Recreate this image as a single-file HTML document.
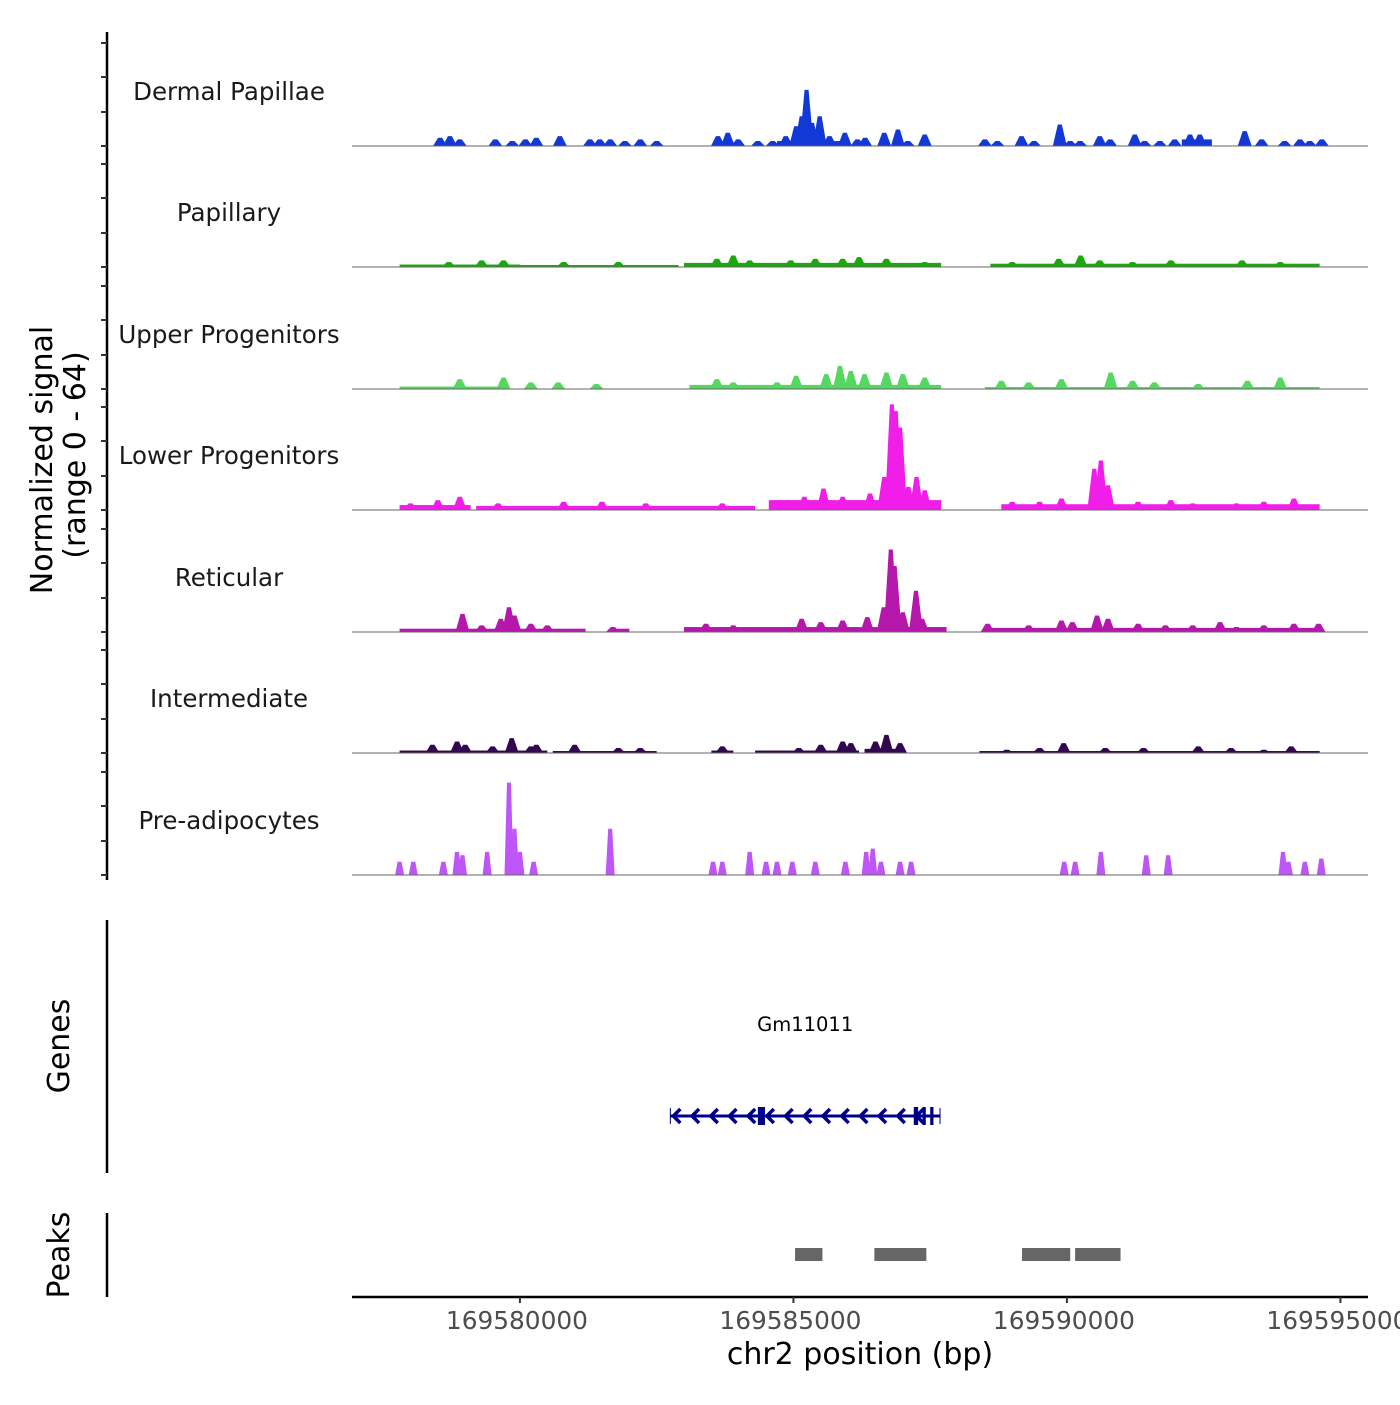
<!DOCTYPE html>
<html><head><meta charset="utf-8"><style>
body{margin:0;background:#fff}
svg{font-family:"DejaVu Sans","Liberation Sans",sans-serif}
</style></head><body>
<svg id="c" width="1400" height="1400" viewBox="0 0 1400 1400"></svg>
<script>
const trackNames=["Dermal Papillae","Papillary","Upper Progenitors","Lower Progenitors","Reticular","Intermediate","Pre-adipocytes"];
const trackColors=["#1238d6","#1aa80d","#55d760","#f01ee8","#b517aa","#33074f","#be55f7"];
const xTicks=[169580000,169585000,169590000,169595000];
const dpPeaks=[[169578540,5],[169578720,6],[169578900,4],[169579550,4],[169579860,3],[169580100,4],[169580300,5],[169580730,6],[169581280,4],[169581460,4],[169581650,4],[169581920,3],[169582200,4],[169582500,3],[169583620,6],[169583800,8],[169583990,4],[169584350,3],[169584620,3],[169584860,6],[169585050,12],[169585150,18],[169585240,34],[169585340,14],[169585480,18],[169585660,6],[169585940,8],[169586170,4],[169586310,5],[169586660,8],[169586910,10],[169587090,3],[169587400,7],[169588500,4],[169588730,3],[169589170,6],[169589400,3],[169589870,13],[169590060,3],[169590240,3],[169590600,6],[169590790,4],[169591240,7],[169591420,3],[169591700,3],[169591970,4],[169592250,7],[169592430,7],[169593250,9],[169593560,4],[169593980,3],[169594260,4],[169594440,3],[169594660,4]];
const dpRegions=[[169584700,169586000,3],[169592100,169592650,4]];
const papPeaks=[[169578700,3],[169579300,4],[169579700,4],[169580800,3],[169581800,3],[169583600,5],[169583900,7],[169584200,4],[169584950,4],[169585400,5],[169585900,5],[169586200,6],[169586700,5],[169587400,3],[169589000,3],[169589850,5],[169590250,7],[169590600,4],[169591200,3],[169591900,4],[169593200,4],[169593900,3]];
const papRegions=[[169577800,169580000,1.5],[169580000,169582900,1.2],[169583000,169587700,2.5],[169588600,169594620,2]];
const upPeaks=[[169578900,6],[169579700,7],[169580200,4],[169580700,4],[169581400,3],[169583600,6],[169583900,4],[169584700,4],[169585050,8],[169585600,9],[169585850,14],[169586050,11],[169586300,9],[169586700,10],[169587000,9],[169587400,7],[169588800,5],[169589300,4],[169589900,6],[169590800,10],[169591200,5],[169591600,4],[169592400,3],[169593300,5],[169593900,7]];
const upRegions=[[169577800,169579600,1.5],[169583100,169587700,2.5],[169588500,169594620,1.2]];
const lpPeaks=[[169578000,4],[169578500,6],[169578900,8],[169579600,4],[169580800,5],[169581500,5],[169582300,4],[169583700,4],[169584900,6],[169585200,8],[169585550,13],[169585900,8],[169586400,10],[169586660,20],[169586800,64],[169586870,60],[169586950,50],[169587100,14],[169587250,20],[169587400,12],[169589000,5],[169589500,5],[169589900,7],[169590500,25],[169590620,30],[169590750,15],[169591300,5],[169591900,6],[169592300,4],[169593100,4],[169593600,5],[169594150,7],[169594400,3]];
const lpRegions=[[169577800,169579100,3],[169579200,169584300,2.5],[169584550,169587700,6],[169588800,169594620,3.5]];
const retPeaks=[[169578950,11],[169579300,4],[169579650,8],[169579800,15],[169579900,10],[169580200,5],[169580500,4],[169581700,3],[169583400,5],[169583900,4],[169585150,8],[169585500,6],[169585900,7],[169586350,9],[169586650,15],[169586780,50],[169586850,40],[169587000,12],[169587240,25],[169587350,8],[169588550,5],[169589300,4],[169589900,7],[169590100,6],[169590550,10],[169590750,8],[169591300,5],[169591800,4],[169592300,4],[169592800,6],[169593100,3],[169593600,4],[169594150,5],[169594600,5]];
const retRegions=[[169577800,169581200,2],[169581700,169582000,2],[169583000,169587800,3],[169588500,169594620,2.5]];
const intPeaks=[[169578400,5],[169578850,7],[169579000,5],[169579500,4],[169579850,9],[169580200,4],[169580300,5],[169581000,5],[169581800,3],[169582200,3],[169583700,4],[169585100,3],[169585500,5],[169585900,7],[169586050,6],[169586500,7],[169586700,11],[169586950,6],[169588900,2],[169589500,3],[169589940,6],[169590700,3],[169591400,3],[169592400,4],[169593000,3],[169593600,2],[169594100,4]];
const intRegions=[[169577800,169580500,1.5],[169580600,169582500,1.2],[169583500,169583900,1.5],[169584300,169586200,1.5],[169586300,169587000,2.5],[169588400,169594620,1.2]];
const prePeaks=[[169577800,8],[169578050,8],[169578600,8],[169578850,14],[169578950,12],[169579400,14],[169579800,56],[169579900,28],[169580000,14],[169580250,8],[169581650,28],[169583530,8],[169583700,8],[169584200,14],[169584500,8],[169584700,8],[169584980,8],[169585400,8],[169585950,8],[169586330,14],[169586450,16],[169586600,8],[169586950,8],[169587150,8],[169589950,8],[169590150,8],[169590620,14],[169591450,12],[169591850,12],[169593950,14],[169594050,8],[169594350,8],[169594650,10]];
const preRegions=[];
const allPeaks=[dpPeaks,papPeaks,upPeaks,lpPeaks,retPeaks,intPeaks,prePeaks];
const allRegions=[dpRegions,papRegions,upRegions,lpRegions,retRegions,intRegions,preRegions];
const geneName="Gm11011";
const geneStart=169582750, geneEnd=169587680;
const geneExons=[[169584350,169584480],[169587200,169587280],[169587360,169587420],[169587500,169587560]];
const peakRanges=[[169585030,169585530],[169586480,169587430],[169589180,169590060],[169590150,169590980]];

const NS="http://www.w3.org/2000/svg";
const svg=document.getElementById('c');
function mk(tag,attrs,parent){const e=document.createElementNS(NS,tag);for(const k in attrs)e.setAttribute(k,attrs[k]);(parent||svg).appendChild(e);return e;}
const X0=352,X1=1368,BP0=169576930,PXBP=0.0547;
const xs=bp=>X0+(bp-BP0)*PXBP;
const baselines=[146,267,389,510,632,753,875];
const ys=(base,v)=>base-v*1.65;

let ax=mk('line',{x1:107,y1:32,x2:107,y2:880,stroke:'#000','stroke-width':2.5});


baselines.forEach(b=>{[103,69,34,0].forEach(o=>{const t=mk('line',{x1:101,y1:b-o,x2:107,y2:b-o,stroke:'#333','stroke-width':2});

});});

trackNames.forEach((name,i)=>{
  const b=baselines[i];
  const g=mk('g',{});
  
  
  const lab=mk('text',{x:229,y:b-46,'text-anchor':'middle','font-size':24.5,fill:'#1a1a1a'},g);
  lab.textContent=name;
  
  
  allRegions[i].forEach(r=>{const e=mk('rect',{x:xs(r[0]),y:ys(b,r[2]),width:xs(r[1])-xs(r[0]),height:b-ys(b,r[2]),fill:trackColors[i]},g);
    
    });
  allPeaks[i].forEach(p=>{const c=xs(p[0]),w=i===6?4.5:7,tw=2,y=ys(b,p[1]);
    const e=mk('polygon',{points:`${c-w},${b} ${c-tw},${y} ${c+tw},${y} ${c+w},${b}`,fill:trackColors[i]},g);
    
    });
  const bl=mk('line',{x1:X0,y1:b,x2:X1,y2:b,stroke:'#666','stroke-width':1},g);
  
  
});

let yt=mk('text',{transform:'translate(52,460) rotate(-90)','text-anchor':'middle','font-size':30,fill:'#000'});
yt.textContent='Normalized signal';


let yt2=mk('text',{transform:'translate(85,455) rotate(-90)','text-anchor':'middle','font-size':30,fill:'#000'});
yt2.textContent='(range 0 - 64)';



let ga=mk('line',{x1:107,y1:920,x2:107,y2:1173,stroke:'#000','stroke-width':2.5});


let gt=mk('text',{transform:'translate(69,1046) rotate(-90)','text-anchor':'middle','font-size':30,fill:'#000'});
gt.textContent='Genes';


let gl=mk('text',{x:(xs(geneStart)+xs(geneEnd))/2,y:1031,'text-anchor':'middle','font-size':19.5,fill:'#000'});
gl.textContent=geneName;


const gg=mk('g',{stroke:'#00008b',fill:'none'});


mk('line',{x1:xs(geneStart),y1:1116,x2:xs(geneEnd),y2:1116,'stroke-width':3},gg);
mk('line',{x1:xs(geneStart),y1:1108,x2:xs(geneStart),y2:1124,'stroke-width':1},gg);
mk('line',{x1:xs(geneEnd),y1:1108,x2:xs(geneEnd),y2:1124,'stroke-width':1},gg);
for(let x=xs(geneStart)+3;x<xs(geneEnd)-10;x+=18.7){mk('polyline',{points:`${x+7},${1109} ${x},${1116} ${x+7},${1123}`,'stroke-width':3.5},gg);}
geneExons.forEach(e=>{const r=mk('rect',{x:xs(e[0]),y:1107,width:Math.max(3,xs(e[1])-xs(e[0])),height:18,fill:'#00008b',stroke:'none'},gg);
  
  });

let pa=mk('line',{x1:107,y1:1213,x2:107,y2:1297,stroke:'#000','stroke-width':2.5});


let pt=mk('text',{transform:'translate(69,1255) rotate(-90)','text-anchor':'middle','font-size':30,fill:'#000'});
pt.textContent='Peaks';


peakRanges.forEach(p=>{const r=mk('rect',{x:xs(p[0]),y:1248,width:xs(p[1])-xs(p[0]),height:13,fill:'#666'});
  
  });

let xa=mk('line',{x1:X0,y1:1297,x2:X1,y2:1297,stroke:'#000','stroke-width':2.5});


xTicks.forEach(t=>{const x=xs(t);
  const l=mk('line',{x1:x,y1:1297,x2:x,y2:1303,stroke:'#333','stroke-width':2});
  
  
  const tx=mk('text',{x:x-3,y:1329,'text-anchor':'middle','font-size':24.8,fill:'#4d4d4d'});
  tx.textContent=t;
  
  });
let xt=mk('text',{x:860,y:1364,'text-anchor':'middle','font-size':30,fill:'#000'});
xt.textContent='chr2 position (bp)';


</script>
</body></html>
